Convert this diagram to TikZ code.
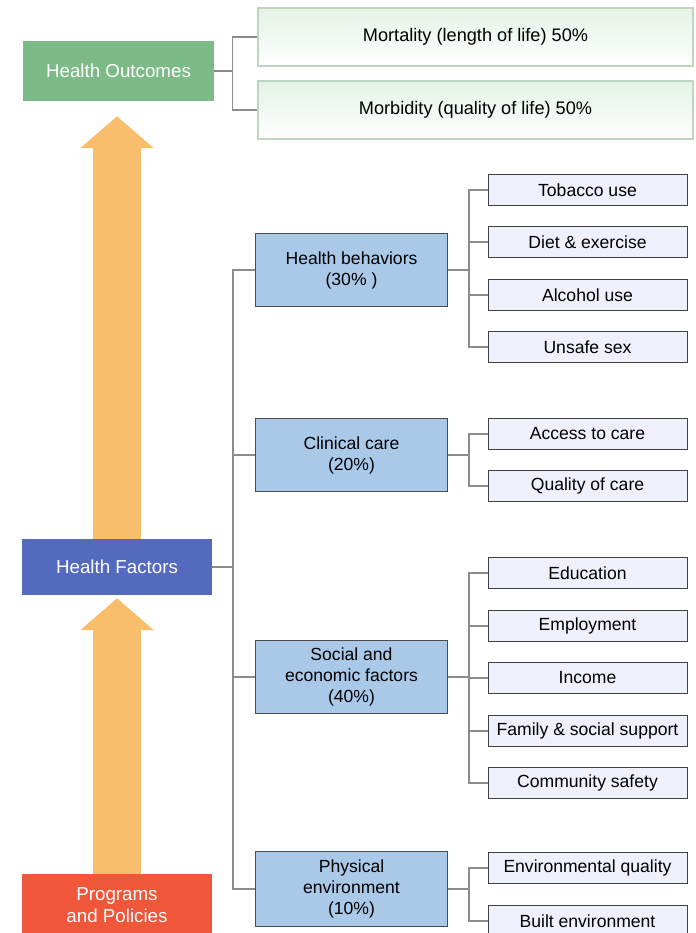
\documentclass[tikz,border=0pt]{standalone}
\usepackage{fontspec}
\setmainfont{Liberation Sans}
\usepackage{xcolor}
\usepackage{tikz}
\usetikzlibrary{arrows.meta}
\definecolor{outgreen}{RGB}{124,186,136}
\definecolor{facblue}{RGB}{84,106,190}
\definecolor{progred}{RGB}{240,86,58}
\definecolor{arroworange}{RGB}{249,190,108}
\definecolor{catblue}{RGB}{170,201,233}
\definecolor{subfill}{RGB}{238,240,252}
\definecolor{linkgray}{RGB}{140,140,140}
\tikzset{headbox/.style = {shape=rectangle,fill,text=white,minimum width=5.7cm,minimum height=1.8cm,align=center,font=\fontsize{16}{18.5}\selectfont}}
\tikzset{outbox/.style = {shape=rectangle,draw={rgb,255:red,190;green,214;blue,190},line width=0.9pt,top color={rgb,255:red,228;green,242;blue,230},bottom color=white,minimum width=13.05cm,minimum height=1.74cm,font=\fontsize{15.5}{18}\selectfont}}
\tikzset{catbox/.style = {shape=rectangle,draw=black!70,line width=0.8pt,fill=catblue,minimum width=5.76cm,minimum height=2.2cm,align=center,font=\fontsize{15}{18}\selectfont}}
\tikzset{subbox/.style = {shape=rectangle,draw=black!75,line width=0.8pt,fill=subfill,minimum width=5.97cm,minimum height=0.93cm,inner xsep=1pt,font=\fontsize{15}{18}\selectfont}}
\tikzset{link/.style = {draw=linkgray,line width=0.9pt}}
\tikzset{bigarrow/.style = {draw=arroworange,line width=1.44cm,-{Triangle[length=0.96cm,width=2.16cm]}}}

\begin{document}
\begin{tikzpicture}[x=0.03cm,y=-0.03cm]
		\useasboundingbox (0,0) rectangle (695,933);
		\clip (0,0) rectangle (695,933);
		% left column
		\node[headbox,fill=outgreen] (ho) at (118.5,71) {Health Outcomes};
		\node[headbox,fill=facblue,minimum height=1.68cm] (hf) at (117,567) {Health Factors};
		\node[headbox,fill=progred,minimum height=1.86cm] (pp) at (117,905) {Programs\\and Policies};
		% outcomes
		\node[outbox] (mort) at (475.5,37) {Mortality (length of life) 50\%};
		\node[outbox] (morb) at (475.5,110) {Morbidity (quality of life) 50\%};
		% factors
		\node[catbox] (hb) at (351.5,270) {Health behaviors\\(30\% )};
		\node[catbox] (cc) at (351.5,455) {Clinical care\\(20\%)};
		\node[catbox] (se) at (351.5,677) {Social and\\economic factors\\(40\%)};
		\node[catbox,minimum height=2.25cm] (pe) at (351.5,889) {Physical\\environment\\(10\%)};
		% sub factors
		\node[subbox] (tob) at (587.5,190) {Tobacco use};
		\node[subbox] (diet) at (587.5,242) {Diet \& exercise};
		\node[subbox] (alc) at (587.5,295) {Alcohol use};
		\node[subbox] (uns) at (587.5,347) {Unsafe sex};
		\node[subbox] (acc) at (587.5,434) {Access to care};
		\node[subbox] (qual) at (587.5,486) {Quality of care};
		\node[subbox] (edu) at (587.5,573) {Education};
		\node[subbox] (emp) at (587.5,626) {Employment};
		\node[subbox] (inc) at (587.5,678) {Income};
		\node[subbox] (fam) at (587.5,731) {Family \& social support};
		\node[subbox] (com) at (587.5,783) {Community safety};
		\node[subbox] (envq) at (587.5,868) {Environmental quality};
		\node[subbox] (built) at (587.5,921) {Built environment};
		% arrows
		\draw[bigarrow,shorten >=0.45cm] (hf.north) -- (hf.north |- ho.south);
		\draw[bigarrow,shorten >=0.09cm] (pp.north) -- (hf.south);
		% links
		\coordinate (trunk) at (233,567);
		\draw[link] (ho.east) -- ++(19,0) |- (mort.west);
		\draw[link] (ho.east) -- ++(19,0) |- (morb.west);
		\draw[link] (hf.east) -- (trunk);
		\foreach \c in {hb,cc,se,pe}
			\draw[link] (trunk) |- (\c.west);
		\foreach \s in {tob,diet,alc,uns}
			\draw[link] (hb.east) -- ++(21,0) |- (\s.west);
		\foreach \s in {acc,qual}
			\draw[link] (cc.east) -- ++(21,0) |- (\s.west);
		\foreach \s in {edu,emp,inc,fam,com}
			\draw[link] (se.east) -- ++(21,0) |- (\s.west);
		\foreach \s in {envq,built}
			\draw[link] (pe.east) -- ++(21,0) |- (\s.west);
	\end{tikzpicture}
\end{document}
